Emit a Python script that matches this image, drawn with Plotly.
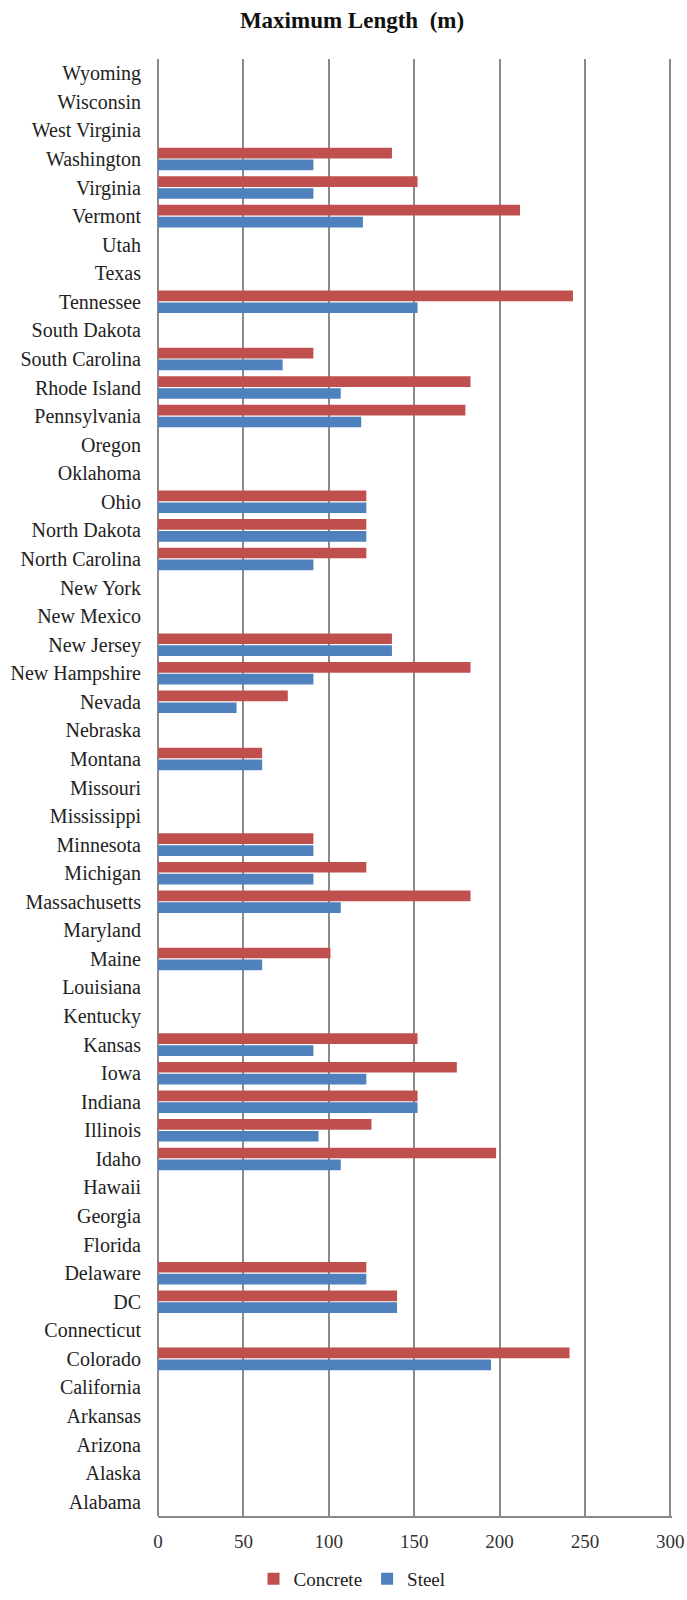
import plotly.graph_objects as go

states = ["Alabama", "Alaska", "Arizona", "Arkansas", "California", "Colorado",
          "Connecticut", "DC", "Delaware", "Florida", "Georgia", "Hawaii", "Idaho",
          "Illinois", "Indiana", "Iowa", "Kansas", "Kentucky", "Louisiana", "Maine",
          "Maryland", "Massachusetts", "Michigan", "Minnesota", "Mississippi",
          "Missouri", "Montana", "Nebraska", "Nevada", "New Hampshire", "New Jersey",
          "New Mexico", "New York", "North Carolina", "North Dakota", "Ohio",
          "Oklahoma", "Oregon", "Pennsylvania", "Rhode Island", "South Carolina",
          "South Dakota", "Tennessee", "Texas", "Utah", "Vermont", "Virginia",
          "Washington", "West Virginia", "Wisconsin", "Wyoming"]

concrete = [None, None, None, None, None, 241,
            None, 140, 122, None, None, None, 198,
            125, 152, 175, 152, None, None, 101,
            None, 183, 122, 91, None,
            None, 61, None, 76, 183, 137,
            None, None, 122, 122, 122,
            None, None, 180, 183, 91,
            None, 243, None, None, 212, 152,
            137, None, None, None]

steel = [None, None, None, None, None, 195,
         None, 140, 122, None, None, None, 107,
         94, 152, 122, 91, None, None, 61,
         None, 107, 91, 91, None,
         None, 61, None, 46, 91, 137,
         None, None, 91, 122, 122,
         None, None, 119, 107, 73,
         None, 152, None, None, 120, 91,
         91, None, None, None]

x_ticks = [0, 50, 100, 150, 200, 250, 300]

FONT = "Liberation Serif"
GRID = "#8a8a8a"

fig = go.Figure()
fig.add_trace(go.Bar(name="Steel", y=states, x=steel, orientation="h",
                     marker=dict(color="#4F81BD", line=dict(width=0)), legendrank=2))
fig.add_trace(go.Bar(name="Concrete", y=states, x=concrete, orientation="h",
                     marker=dict(color="#C0504D", line=dict(width=0)), legendrank=1))

fig.update_layout(
    width=687, height=1600,
    paper_bgcolor="white", plot_bgcolor="white",
    margin=dict(l=158, r=15, t=59, b=84),
    barmode="group", bargap=0.17, bargroupgap=0.1,
    font=dict(family=FONT, size=20, color="#222222"),
    title=dict(text="<b>Maximum Length  (m)</b>", x=352/687, xref="container",
               xanchor="center", y=1 - 20/1600, yref="container", yanchor="middle",
               font=dict(family=FONT, size=23, color="#111111")),
    legend=dict(orientation="h", x=352/687, xref="container", xanchor="center",
                y=1 - 1579/1600, yref="container", yanchor="middle",
                font=dict(family=FONT, size=19, color="#222222"),
                itemwidth=30, tracegroupgap=0),
    showlegend=True,
)
fig.update_xaxes(range=[0, 301], tickvals=x_ticks, ticktext=[str(v) for v in x_ticks],
                 automargin=False,
                 showgrid=True, gridcolor=GRID, gridwidth=1.5,
                 zeroline=True, zerolinecolor=GRID, zerolinewidth=1.5,
                 showline=True, linecolor=GRID, linewidth=1.5,
                 ticks="", ticklabelstandoff=7,
                 tickfont=dict(family=FONT, size=19, color="#333333"))
fig.update_yaxes(type="category", categoryorder="array", categoryarray=states,
                 automargin=False,
                 showgrid=False, zeroline=False, showline=False, ticks="",
                 ticklabelstandoff=16,
                 tickfont=dict(family=FONT, size=20, color="#222222"))

fig.write_html("out.html")
